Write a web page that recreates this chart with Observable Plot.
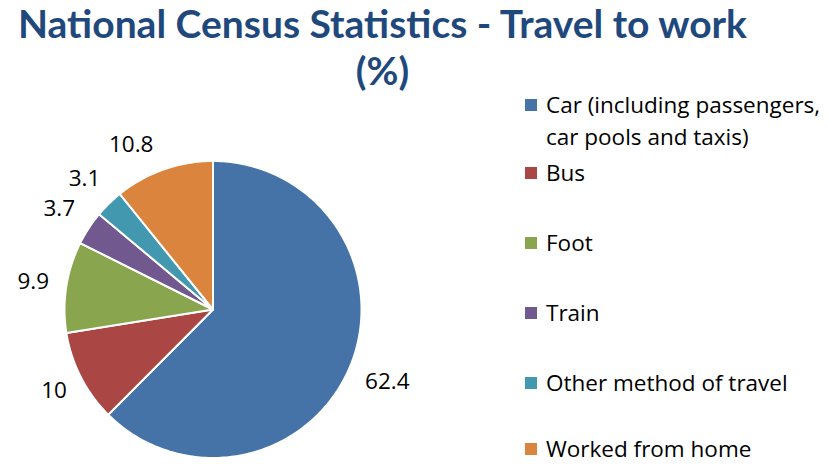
<!DOCTYPE html>
<html>
<head>
<meta charset="utf-8">
<script src="https://cdn.jsdelivr.net/npm/d3@7"></script>
<script src="https://cdn.jsdelivr.net/npm/@observablehq/plot@0.6"></script>
<style>
  html, body { margin: 0; padding: 0; background: #fff; }
  #wrap { position: relative; width: 829px; height: 466px; overflow: hidden; }
  #title { position: absolute; left: 0; top: 0; width: 765px; text-align: center;
           font-family: Lato, "Open Sans", sans-serif; font-weight: 700; font-size: 39px;
           line-height: 47px; color: #1F497D; }
  #chart { position: absolute; left: 0; top: 92px; }
  .sw { position: absolute; left: 525px; width: 12px; height: 12px; }
  .tx { position: absolute; left: 546px; font-family: "Open Sans", sans-serif; font-size: 22.5px;
        line-height: 24px; height: 24px; color: #000; white-space: nowrap; }
</style>
</head>
<body>
<div id="wrap">
  <div id="title"></div>
  <div id="chart"></div>
  <div id="legend"></div>
</div>
<script>
const titleLines = ["National Census Statistics - Travel to work", "(%)"];
const categories = ["Car", "Bus", "Foot", "Train", "Other method of travel", "Worked from home"];
const legendLabels = [["Car (including passengers,", "car pools and taxis)"], ["Bus"], ["Foot"], ["Train"], ["Other method of travel"], ["Worked from home"]];
const values = [62.4, 10, 9.9, 3.7, 3.1, 10.8];
const valueLabels = ["62.4", "10", "9.9", "3.7", "3.1", "10.8"];
const colors = ["#4572A7", "#AA4643", "#89A54E", "#71588F", "#4198AF", "#DB843D"];

// title
document.getElementById("title").innerHTML = titleLines.join("<br>");

// layout (pixels)
const W = 829, H = 374;
const cx = 212.5, cy = 217, R = 148.5;

const arcs = d3.pie().sort(null).startAngle(0).endAngle(2 * Math.PI)(values);

// slice polygons in unit-circle coordinates (y up, angle clockwise from top)
const slices = [];
arcs.forEach((a, i) => {
  const cat = categories[i];
  slices.push({cat, x: 0, y: 0});
  const n = Math.max(2, Math.ceil((a.endAngle - a.startAngle) / (Math.PI / 180)));
  for (let k = 0; k <= n; k++) {
    const t = a.startAngle + (a.endAngle - a.startAngle) * k / n;
    slices.push({cat, x: Math.sin(t), y: Math.cos(t)});
  }
});

// labels outside the slices (last one shifted left like the reference's collision avoidance)
const fs = 22.5;
const labels = arcs.map((a, i) => {
  let m = (a.startAngle + a.endAngle) / 2;
  if (i === arcs.length - 1) m -= 7 * Math.PI / 180;
  const dx = Math.sin(m), dy = Math.cos(m);
  const w = valueLabels[i].length * fs * 0.5, h = fs * 1.0;
  const ext = Math.abs(dx) * w / 2 + Math.abs(dy) * h / 2;
  const r = 1 + (15 + ext) / R;
  return {x: dx * r, y: dy * r, text: valueLabels[i]};
});

const chart = Plot.plot({
  width: W, height: H,
  marginTop: 0, marginRight: 0, marginBottom: 0, marginLeft: 0,
  x: {domain: [-cx / R, (W - cx) / R], axis: null},
  y: {domain: [-(H - cy) / R, cy / R], axis: null},
  color: {domain: categories, range: colors},
  style: {background: "transparent"},
  marks: [
    Plot.line(slices, {x: "x", y: "y", z: "cat", fill: "cat", stroke: "#fff", strokeWidth: 2, curve: "linear-closed", strokeLinejoin: "round"}),
    Plot.text(labels, {x: "x", y: "y", text: "text", fontSize: fs, fill: "#000", fontFamily: "'Open Sans', sans-serif", textAnchor: "middle", lineAnchor: "middle"})
  ]
});
document.getElementById("chart").appendChild(chart);

// legend: line centres (px)
const firstCentres = [105, 173, 243, 313, 383, 449];
const lineGap = 32;
const lg = document.getElementById("legend");
legendLabels.forEach((lines, i) => {
  const sw = document.createElement("div");
  sw.className = "sw";
  sw.style.background = colors[i];
  sw.style.top = (firstCentres[i] - 6) + "px";
  lg.appendChild(sw);
  lines.forEach((t, j) => {
    const d = document.createElement("div");
    d.className = "tx";
    d.style.top = (firstCentres[i] + j * lineGap - 12) + "px";
    d.textContent = t;
    lg.appendChild(d);
  });
});
</script>
</body>
</html>
